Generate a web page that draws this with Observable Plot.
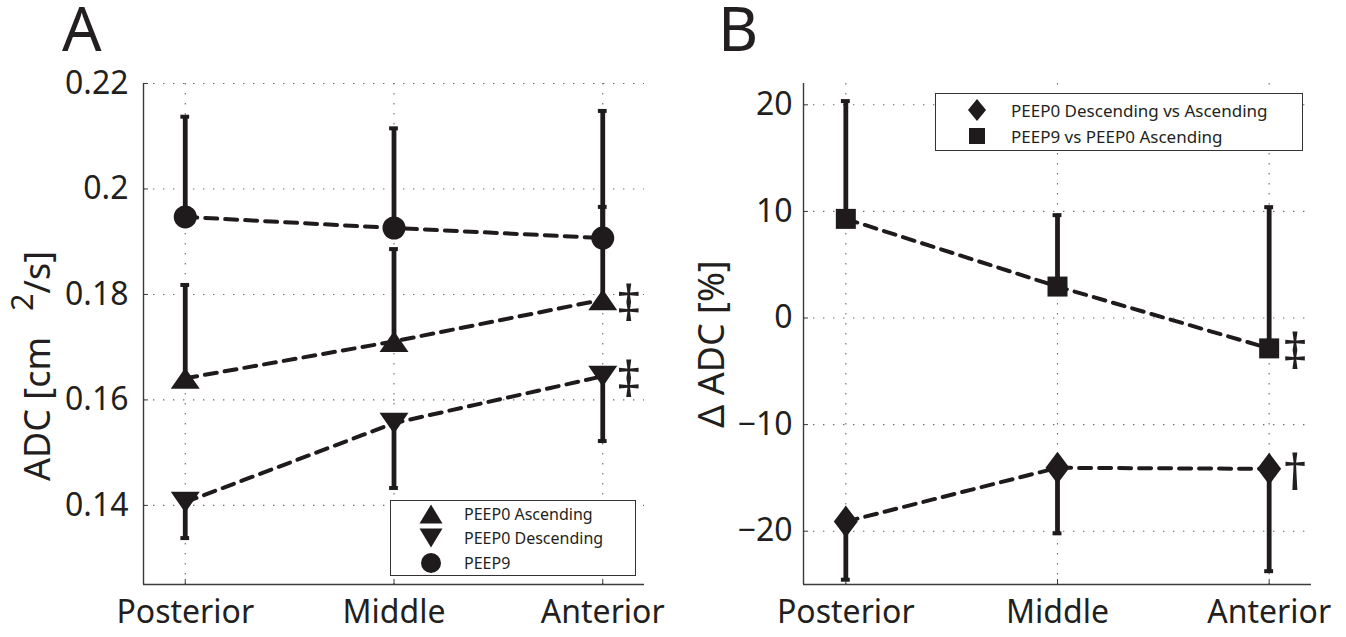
<!DOCTYPE html>
<html>
<head>
<meta charset="utf-8">
<script src="https://cdn.jsdelivr.net/npm/d3@7"></script>
<script src="https://cdn.jsdelivr.net/npm/@observablehq/plot@0.6"></script>
<style>
  html, body { margin: 0; padding: 0; background: #fff; }
  #wrap { position: relative; width: 1346px; height: 637px; overflow: hidden; font-family: "Noto Sans", sans-serif; color: #231f20; }
  .panel { position: absolute; top: 0; }
  .letter { position: absolute; font-size: 62px; line-height: 0.85; }
  .ylab { position: absolute; white-space: nowrap; font-size: 36px; line-height: 1; transform: translate(-50%, -50%) rotate(-90deg); }
  .legend { position: absolute; border: 1.3px solid #333; background: #fff; box-sizing: border-box; }
  .legend .sym { position: absolute; width: 30px; height: 30px; transform: translate(-50%, -50%); overflow: visible; }
  .legend .lab { position: absolute; white-space: nowrap; line-height: 1; transform: translateY(-50%); }
</style>
</head>
<body>
<div id="wrap"></div>
<script>
// ---------------- data ----------------
const categories = ["Posterior", "Middle", "Anterior"];
const positionIndex = [1, 2, 3];

// Panel A: ADC [cm^2/s]
const adcSeries = ["PEEP0 Ascending", "PEEP0 Descending", "PEEP9"];
const peep0AscMean  = [0.1641, 0.1711, 0.1790];
const peep0AscUpper = [0.1818, 0.1886, 0.1966];
const peep0DescMean  = [0.1406, 0.1556, 0.1645];
const peep0DescLower = [0.1338, 0.1433, 0.1522];
const peep9Mean  = [0.1947, 0.1926, 0.1907];
const peep9Upper = [0.2137, 0.2115, 0.2148];
const peep0AscNote  = ["", "", "\u2021"];
const peep0DescNote = ["", "", "\u2021"];
const peep9Note     = ["", "", ""];
const adcTicks = [0.14, 0.16, 0.18, 0.2, 0.22];
const adcDomain = [0.125, 0.22];

// Panel B: delta ADC [%]
const deltaSeries = ["PEEP0 Descending vs Ascending", "PEEP9 vs PEEP0 Ascending"];
const descVsAscMean  = [-19.1, -14.05, -14.15];
const descVsAscLower = [-24.55, -20.2, -23.75];
const peep9VsAscMean  = [9.3, 2.95, -2.85];
const peep9VsAscUpper = [20.35, 9.65, 10.4];
const descVsAscNote  = ["", "", "\u2020"];
const peep9VsAscNote = ["", "", "\u2021"];
const deltaTicks = [-20, -10, 0, 10, 20];
const deltaDomain = [-25, 22];

const xDomain = [0.8, 3.2];

// ---------------- symbols ----------------
function triSym(w, h, up) {
  return {draw(ctx) {
    const s = up ? 1 : -1;
    ctx.moveTo(0, -s * h / 2); ctx.lineTo(w / 2, s * h / 2); ctx.lineTo(-w / 2, s * h / 2); ctx.closePath();
  }};
}
function diamondSym(w, h) {
  return {draw(ctx) { ctx.moveTo(0, -h / 2); ctx.lineTo(w / 2, 0); ctx.lineTo(0, h / 2); ctx.lineTo(-w / 2, 0); ctx.closePath(); }};
}
function squareSym(s) {
  return {draw(ctx) { ctx.rect(-s / 2, -s / 2, s, s); }};
}
function circleSym(r) {
  return {draw(ctx) { ctx.moveTo(r, 0); ctx.arc(0, 0, r, 0, 2 * Math.PI); ctx.closePath(); }};
}
function symPath(sym) { const p = d3.path(); sym.draw(p); return p.toString(); }

const ink = "#1f1b1c";

function buildRows(names, means, ends, notes) {
  const rows = [];
  names.forEach((s, si) => categories.forEach((c, i) => {
    rows.push({series: s, category: c, pos: positionIndex[i], mean: means[si][i], end: ends[si][i], note: notes[si][i]});
  }));
  return rows;
}

const rowsA = buildRows(adcSeries,
  [peep0AscMean, peep0DescMean, peep9Mean],
  [peep0AscUpper, peep0DescLower, peep9Upper],
  [peep0AscNote, peep0DescNote, peep9Note]);
const rowsB = buildRows(deltaSeries,
  [descVsAscMean, peep9VsAscMean],
  [descVsAscLower, peep9VsAscUpper],
  [descVsAscNote, peep9VsAscNote]);

function panel({rows, seriesNames, symbols, yDomain, yTicks, yFmt, width, marginLeft, marginRight, tickPadding}) {
  const grid = {stroke: "#6a6a6a", strokeOpacity: 1, strokeWidth: 1.1, strokeDasharray: "1.4,8.6"};
  const capHalf = 0.021;
  const marks = [
    Plot.gridY(yTicks, grid),
    Plot.gridX(positionIndex, grid),
    Plot.ruleX([xDomain[0]], {stroke: "#3a3a3a", strokeWidth: 1.4}),
    Plot.ruleY([yDomain[0]], {stroke: "#3a3a3a", strokeWidth: 1.4}),
    Plot.axisY(yTicks, {tickFormat: yFmt, tickSize: -5, tickPadding, fontSize: 32, label: null, stroke: "#3a3a3a", fill: "#231f20"}),
    Plot.axisX(positionIndex, {tickFormat: i => categories[i - 1], tickSize: -5, tickPadding: 21, fontSize: 32, label: null, stroke: "#3a3a3a", fill: "#231f20"}),
    Plot.ruleX(rows, {x: "pos", y1: "mean", y2: "end", stroke: ink, strokeWidth: 4.8}),
    Plot.ruleY(rows, {y: "end", x1: d => d.pos - capHalf, x2: d => d.pos + capHalf, stroke: ink, strokeWidth: 4}),
    Plot.line(rows, {x: "pos", y: "mean", z: "series", stroke: ink, strokeWidth: 4, strokeDasharray: "12,8"})
  ];
  seriesNames.forEach((s, si) => {
    marks.push(Plot.dot(rows.filter(d => d.series === s), {x: "pos", y: "mean", symbol: symbols[si], fill: ink, stroke: null, r: 10}));
  });
  marks.push(Plot.text(rows.filter(d => d.note), {x: "pos", y: "mean", text: "note", dx: 26, dy: 5, fontSize: 50, fill: "#231f20"}));
  return Plot.plot({
    width, height: 637, marginLeft, marginRight, marginTop: 83, marginBottom: 53,
    style: {fontFamily: "'Noto Sans', sans-serif", fontSize: "32px", color: "#231f20", background: "transparent", overflow: "visible"},
    x: {type: "linear", domain: xDomain},
    y: {type: "linear", domain: yDomain},
    marks
  });
}

const wrap = document.getElementById("wrap");

function addPanel(left, svg) {
  const d = document.createElement("div");
  d.className = "panel"; d.style.left = left + "px";
  d.appendChild(svg); wrap.appendChild(d);
}

const symA = [triSym(29, 21, true), triSym(29, 21, false), circleSym(11.5)];
const symB = [diamondSym(24, 32), squareSym(20)];

addPanel(0, panel({rows: rowsA, seriesNames: adcSeries, symbols: symA, yDomain: adcDomain, yTicks: adcTicks,
  yFmt: d => String(d), width: 673, marginLeft: 143, marginRight: 29, tickPadding: 20}));
addPanel(673, panel({rows: rowsB, seriesNames: deltaSeries, symbols: symB, yDomain: deltaDomain, yTicks: deltaTicks,
  yFmt: d => (d < 0 ? "\u2212" + Math.abs(d) : String(d)), width: 673, marginLeft: 130, marginRight: 35, tickPadding: 16}));

// panel letters
function addDiv(cls, html, styles) {
  const d = document.createElement("div");
  d.className = cls; d.innerHTML = html;
  Object.assign(d.style, styles); wrap.appendChild(d); return d;
}
addDiv("letter", "A", {left: "62px", top: "1px"});
addDiv("letter", "B", {left: "718px", top: "1px"});

// y labels
addDiv("ylab", 'ADC [cm<span style="display:inline-block;width:26px"></span><span style="position:relative;top:-0.55em;font-size:0.85em">2</span>/s]', {left: "37px", top: "366px"});
addDiv("ylab", "\u0394 ADC [%]", {left: "711px", top: "344px"});

// legends
function legend(names, symbols, box) {
  const lg = addDiv("legend", "", {left: box.left + "px", top: box.top + "px", width: box.width + "px", height: box.height + "px"});
  names.forEach((n, i) => {
    const cy = box.rowStart + i * box.rowStep;
    const svg = d3.create("svg").attr("class", "sym").attr("viewBox", "-15 -15 30 30")
      .style("left", box.symX + "px").style("top", cy + "px");
    svg.append("path").attr("d", symPath(symbols[i])).attr("fill", ink);
    lg.appendChild(svg.node());
    const t = document.createElement("div");
    t.className = "lab"; t.textContent = n;
    Object.assign(t.style, {left: box.textX + "px", top: cy + "px", fontSize: box.fontSize + "px"});
    lg.appendChild(t);
  });
}
legend(adcSeries, [triSym(23, 19, true), triSym(23, 19, false), circleSym(10)],
  {left: 390, top: 500, width: 246, height: 76, rowStart: 12.5, rowStep: 24.5, symX: 40, textX: 73, fontSize: 16});
legend(deltaSeries, [diamondSym(18, 22), squareSym(16)],
  {left: 935, top: 93, width: 368, height: 58, rowStart: 16, rowStep: 26, symX: 41, textX: 75, fontSize: 17});
</script>
</body>
</html>
